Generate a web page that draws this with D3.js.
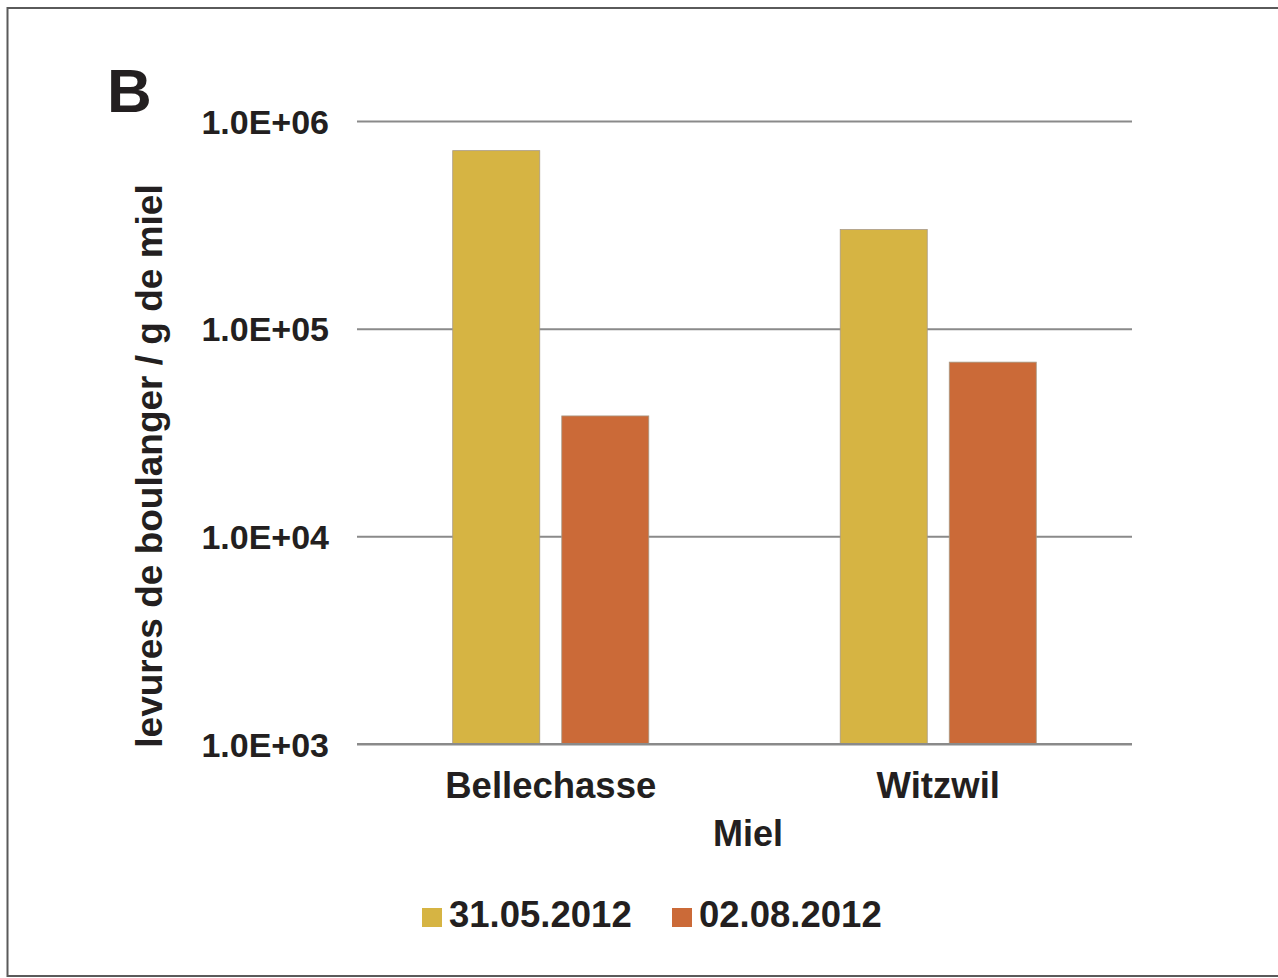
<!DOCTYPE html>
<html>
<head>
<meta charset="utf-8">
<script src="https://cdn.jsdelivr.net/npm/d3@7/dist/d3.min.js"></script>
<style>
  html, body { margin: 0; padding: 0; background: #fff; }
  svg { display: block; }
  text { font-family: "Liberation Sans", Arial, Helvetica, sans-serif; font-weight: bold; fill: #231f20; }
</style>
</head>
<body>
<script>
const categories = ["Bellechasse", "Witzwil"];
const seriesNames = ["31.05.2012", "02.08.2012"];
const series1Values = [720000, 300000];   // 31.05.2012
const series2Values = [38000, 69000];     // 02.08.2012
const tickValues = [1e3, 1e4, 1e5, 1e6];
const tickLabels = ["1.0E+03", "1.0E+04", "1.0E+05", "1.0E+06"];
const colors = ["#d6b443", "#cb6a38"];

(function () {
const W = 1278, H = 978;
const svg = d3.select("body").append("svg").attr("width", W).attr("height", H);

// outer frame (right side runs off the picture)
svg.append("rect").attr("x", 7.5).attr("y", 8).attr("width", 1300).attr("height", 968)
  .attr("fill", "none").attr("stroke", "#5a5a5a").attr("stroke-width", 2);

const pLeft = 357, pRight = 1132, pTop = 121, pBottom = 744;

const y = d3.scaleLog().domain([1e3, 1e6]).range([pBottom, pTop]);
const x0 = d3.scaleBand().domain(categories).range([pLeft, pRight]).paddingInner(0.494).paddingOuter(0.247);
const x1 = d3.scaleBand().domain(seriesNames).range([0, x0.bandwidth()]).paddingInner(22 / 109).paddingOuter(0);

// y axis with gridlines
const yAxis = d3.axisLeft(y).tickValues(tickValues)
  .tickFormat((d, i) => tickLabels[i])
  .tickSizeInner(-(pRight - pLeft)).tickSizeOuter(0).tickPadding(28);
const gy = svg.append("g").attr("transform", `translate(${pLeft},0)`).call(yAxis);
gy.select(".domain").remove();
gy.selectAll(".tick line").attr("stroke", "#8a8a8a").attr("stroke-width", 2);
gy.selectAll(".tick text").attr("font-size", 34).attr("dy", "0.36em")
  .style("font-family", '"Liberation Sans", Arial, sans-serif').style("font-weight", "bold").attr("fill", "#231f20");

// bars
const data = categories.map((c, i) => ({ cat: c, vals: [series1Values[i], series2Values[i]] }));
const groups = svg.append("g").selectAll("g").data(data).join("g")
  .attr("transform", d => `translate(${x0(d.cat)},0)`);
groups.selectAll("rect").data(d => d.vals.map((v, k) => ({ key: seriesNames[k], v, k })))
  .join("rect")
  .attr("x", d => x1(d.key))
  .attr("y", d => y(d.v))
  .attr("width", x1.bandwidth())
  .attr("height", d => y(1e3) - y(d.v))
  .attr("fill", d => colors[d.k])
  .attr("stroke", "#a89a86").attr("stroke-width", 0.8);

// redraw baseline on top
svg.append("line").attr("x1", pLeft).attr("x2", pRight).attr("y1", y(1e3)).attr("y2", y(1e3))
  .attr("stroke", "#8a8a8a").attr("stroke-width", 2);

// x axis labels
const xAxis = d3.axisBottom(x0).tickSize(0).tickPadding(0);
const gx = svg.append("g").attr("transform", `translate(0,${pBottom})`).call(xAxis);
gx.select(".domain").remove();
gx.selectAll(".tick text").attr("font-size", 36.5).attr("dy", 0).attr("y", 54)
  .style("font-family", '"Liberation Sans", Arial, sans-serif').style("font-weight", "bold").attr("fill", "#231f20");

// axis titles
svg.append("text").attr("x", 748).attr("y", 846).attr("text-anchor", "middle")
  .attr("font-size", 36).text("Miel");
svg.append("text").attr("transform", "translate(162,466) rotate(-90)").attr("text-anchor", "middle")
  .attr("font-size", 37).text("levures de boulanger / g de miel");

// panel letter
svg.append("text").attr("x", 107).attr("y", 112).attr("font-size", 62).text("B");

// legend
const legX = [422, 672];
const leg = svg.append("g").selectAll("g").data(seriesNames).join("g")
  .attr("transform", (d, i) => `translate(${legX[i]},908)`);
leg.append("rect").attr("width", 20).attr("height", 19).attr("fill", (d, i) => colors[i]);
leg.append("text").attr("x", 27).attr("y", 19).attr("font-size", 36.5).text(d => d);
})();
</script>
</body>
</html>
